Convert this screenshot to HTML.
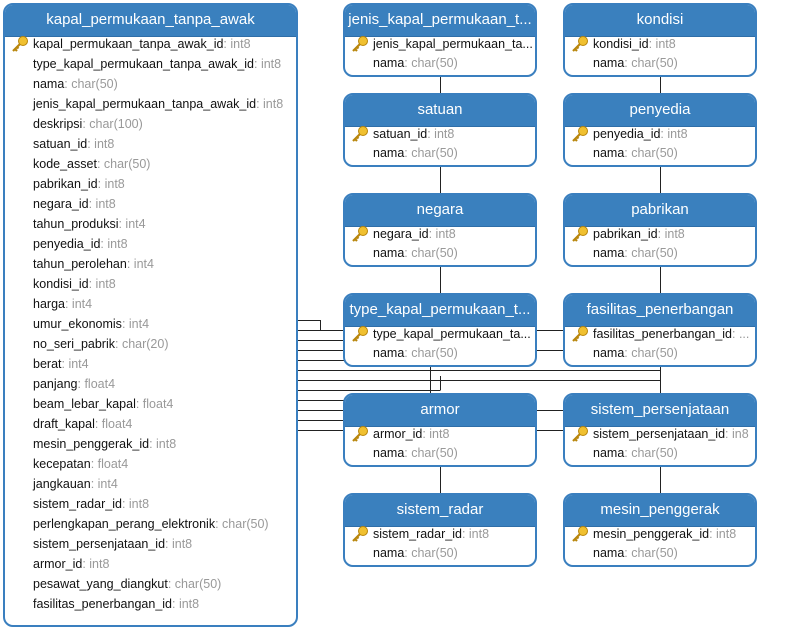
<!DOCTYPE html>
<html><head><meta charset="utf-8"><style>
body{margin:0;width:804px;height:640px;background:#fff;position:relative;overflow:hidden;font-family:"Liberation Sans",sans-serif}
.t{position:absolute;border:2px solid #3a7fbf;border-radius:10px;background:#fff;box-sizing:border-box;overflow:hidden}
.h{background:#3a80be;color:#fff;font-size:15px;text-align:center;height:31px;line-height:30px;white-space:nowrap;overflow:hidden;border-bottom:1px solid #2f6ea8}
.r{position:absolute;font-size:12.5px;color:#111;white-space:nowrap;height:20px;line-height:20px}
.r span{color:#999}
.k{position:absolute;width:18px;height:18px}
svg.l{position:absolute;left:0;top:0}
</style></head><body>
<svg class="l" width="804" height="640">
<g stroke="#222" stroke-width="1" fill="none">
<path d="M440.5 76V94M660.5 76V94M440.5 166V194M660.5 166V194M440.5 266V294M660.5 266V294M440.5 466V494M660.5 466V494"/>
<path d="M297 320.5H320.5V330.5M297 330.5H344M297 340.5H344M297 350.5H344M297 360.5H344"/>
<path d="M297 370.5H660.5M297 380.5H660.5M660.5 366V394"/>
<path d="M297 390.5H440.5M440.5 376V390M430.5 366V400.5M297 400.5H430.5"/>
<path d="M297 410.5H344M297 420.5H344M297 430.5H344"/>
<path d="M536 330.5H564M536 350.5H564M536 410.5H564M536 430.5H564"/>
</g></svg>

<div class="t" style="left:3px;top:3px;width:295px;height:624px"><div class="h">kapal_permukaan_tanpa_awak</div></div>
<svg class="k" style="left:11px;top:35px" viewBox="0 0 18 18"><circle cx="12" cy="6" r="4.5" fill="#f0c030" stroke="#b8860b"/><path d="M9 9L2 16M4 14l2 2M6 12l1.5 1.5" stroke="#b8860b" stroke-width="2.2"/></svg>
<div class="r" style="left:33px;top:34px">kapal_permukaan_tanpa_awak_id<span>: int8</span></div>
<div class="r" style="left:33px;top:54px">type_kapal_permukaan_tanpa_awak_id<span>: int8</span></div>
<div class="r" style="left:33px;top:74px">nama<span>: char(50)</span></div>
<div class="r" style="left:33px;top:94px">jenis_kapal_permukaan_tanpa_awak_id<span>: int8</span></div>
<div class="r" style="left:33px;top:114px">deskripsi<span>: char(100)</span></div>
<div class="r" style="left:33px;top:134px">satuan_id<span>: int8</span></div>
<div class="r" style="left:33px;top:154px">kode_asset<span>: char(50)</span></div>
<div class="r" style="left:33px;top:174px">pabrikan_id<span>: int8</span></div>
<div class="r" style="left:33px;top:194px">negara_id<span>: int8</span></div>
<div class="r" style="left:33px;top:214px">tahun_produksi<span>: int4</span></div>
<div class="r" style="left:33px;top:234px">penyedia_id<span>: int8</span></div>
<div class="r" style="left:33px;top:254px">tahun_perolehan<span>: int4</span></div>
<div class="r" style="left:33px;top:274px">kondisi_id<span>: int8</span></div>
<div class="r" style="left:33px;top:294px">harga<span>: int4</span></div>
<div class="r" style="left:33px;top:314px">umur_ekonomis<span>: int4</span></div>
<div class="r" style="left:33px;top:334px">no_seri_pabrik<span>: char(20)</span></div>
<div class="r" style="left:33px;top:354px">berat<span>: int4</span></div>
<div class="r" style="left:33px;top:374px">panjang<span>: float4</span></div>
<div class="r" style="left:33px;top:394px">beam_lebar_kapal<span>: float4</span></div>
<div class="r" style="left:33px;top:414px">draft_kapal<span>: float4</span></div>
<div class="r" style="left:33px;top:434px">mesin_penggerak_id<span>: int8</span></div>
<div class="r" style="left:33px;top:454px">kecepatan<span>: float4</span></div>
<div class="r" style="left:33px;top:474px">jangkauan<span>: int4</span></div>
<div class="r" style="left:33px;top:494px">sistem_radar_id<span>: int8</span></div>
<div class="r" style="left:33px;top:514px">perlengkapan_perang_elektronik<span>: char(50)</span></div>
<div class="r" style="left:33px;top:534px">sistem_persenjataan_id<span>: int8</span></div>
<div class="r" style="left:33px;top:554px">armor_id<span>: int8</span></div>
<div class="r" style="left:33px;top:574px">pesawat_yang_diangkut<span>: char(50)</span></div>
<div class="r" style="left:33px;top:594px">fasilitas_penerbangan_id<span>: int8</span></div>

<!-- column 1 -->
<div class="t" style="left:343px;top:3px;width:194px;height:74px"><div class="h">jenis_kapal_permukaan_t...</div></div>
<div class="r" style="left:373px;top:34px">jenis_kapal_permukaan_ta...</div>
<div class="r" style="left:373px;top:53px">nama<span>: char(50)</span></div>

<div class="t" style="left:343px;top:93px;width:194px;height:74px"><div class="h">satuan</div></div>
<div class="r" style="left:373px;top:124px">satuan_id<span>: int8</span></div>
<div class="r" style="left:373px;top:143px">nama<span>: char(50)</span></div>

<div class="t" style="left:343px;top:193px;width:194px;height:74px"><div class="h">negara</div></div>
<div class="r" style="left:373px;top:224px">negara_id<span>: int8</span></div>
<div class="r" style="left:373px;top:243px">nama<span>: char(50)</span></div>

<div class="t" style="left:343px;top:293px;width:194px;height:74px"><div class="h">type_kapal_permukaan_t...</div></div>
<div class="r" style="left:373px;top:324px">type_kapal_permukaan_ta...</div>
<div class="r" style="left:373px;top:343px">nama<span>: char(50)</span></div>

<div class="t" style="left:343px;top:393px;width:194px;height:74px"><div class="h">armor</div></div>
<div class="r" style="left:373px;top:424px">armor_id<span>: int8</span></div>
<div class="r" style="left:373px;top:443px">nama<span>: char(50)</span></div>

<div class="t" style="left:343px;top:493px;width:194px;height:74px"><div class="h">sistem_radar</div></div>
<div class="r" style="left:373px;top:524px">sistem_radar_id<span>: int8</span></div>
<div class="r" style="left:373px;top:543px">nama<span>: char(50)</span></div>

<!-- column 2 -->
<div class="t" style="left:563px;top:3px;width:194px;height:74px"><div class="h">kondisi</div></div>
<div class="r" style="left:593px;top:34px">kondisi_id<span>: int8</span></div>
<div class="r" style="left:593px;top:53px">nama<span>: char(50)</span></div>

<div class="t" style="left:563px;top:93px;width:194px;height:74px"><div class="h">penyedia</div></div>
<div class="r" style="left:593px;top:124px">penyedia_id<span>: int8</span></div>
<div class="r" style="left:593px;top:143px">nama<span>: char(50)</span></div>

<div class="t" style="left:563px;top:193px;width:194px;height:74px"><div class="h">pabrikan</div></div>
<div class="r" style="left:593px;top:224px">pabrikan_id<span>: int8</span></div>
<div class="r" style="left:593px;top:243px">nama<span>: char(50)</span></div>

<div class="t" style="left:563px;top:293px;width:194px;height:74px"><div class="h">fasilitas_penerbangan</div></div>
<div class="r" style="left:593px;top:324px">fasilitas_penerbangan_id<span>: ...</span></div>
<div class="r" style="left:593px;top:343px">nama<span>: char(50)</span></div>

<div class="t" style="left:563px;top:393px;width:194px;height:74px"><div class="h">sistem_persenjataan</div></div>
<div class="r" style="left:593px;top:424px">sistem_persenjataan_id<span>: in8</span></div>
<div class="r" style="left:593px;top:443px">nama<span>: char(50)</span></div>

<div class="t" style="left:563px;top:493px;width:194px;height:74px"><div class="h">mesin_penggerak</div></div>
<div class="r" style="left:593px;top:524px">mesin_penggerak_id<span>: int8</span></div>
<div class="r" style="left:593px;top:543px">nama<span>: char(50)</span></div>

<!-- keys -->
<svg class="k" style="left:351px;top:35px" viewBox="0 0 18 18"><circle cx="12" cy="6" r="4.5" fill="#f0c030" stroke="#b8860b"/><path d="M9 9L2 16M4 14l2 2M6 12l1.5 1.5" stroke="#b8860b" stroke-width="2.2"/></svg>
<svg class="k" style="left:351px;top:125px" viewBox="0 0 18 18"><circle cx="12" cy="6" r="4.5" fill="#f0c030" stroke="#b8860b"/><path d="M9 9L2 16M4 14l2 2M6 12l1.5 1.5" stroke="#b8860b" stroke-width="2.2"/></svg>
<svg class="k" style="left:351px;top:225px" viewBox="0 0 18 18"><circle cx="12" cy="6" r="4.5" fill="#f0c030" stroke="#b8860b"/><path d="M9 9L2 16M4 14l2 2M6 12l1.5 1.5" stroke="#b8860b" stroke-width="2.2"/></svg>
<svg class="k" style="left:351px;top:325px" viewBox="0 0 18 18"><circle cx="12" cy="6" r="4.5" fill="#f0c030" stroke="#b8860b"/><path d="M9 9L2 16M4 14l2 2M6 12l1.5 1.5" stroke="#b8860b" stroke-width="2.2"/></svg>
<svg class="k" style="left:351px;top:425px" viewBox="0 0 18 18"><circle cx="12" cy="6" r="4.5" fill="#f0c030" stroke="#b8860b"/><path d="M9 9L2 16M4 14l2 2M6 12l1.5 1.5" stroke="#b8860b" stroke-width="2.2"/></svg>
<svg class="k" style="left:351px;top:525px" viewBox="0 0 18 18"><circle cx="12" cy="6" r="4.5" fill="#f0c030" stroke="#b8860b"/><path d="M9 9L2 16M4 14l2 2M6 12l1.5 1.5" stroke="#b8860b" stroke-width="2.2"/></svg>
<svg class="k" style="left:571px;top:35px" viewBox="0 0 18 18"><circle cx="12" cy="6" r="4.5" fill="#f0c030" stroke="#b8860b"/><path d="M9 9L2 16M4 14l2 2M6 12l1.5 1.5" stroke="#b8860b" stroke-width="2.2"/></svg>
<svg class="k" style="left:571px;top:125px" viewBox="0 0 18 18"><circle cx="12" cy="6" r="4.5" fill="#f0c030" stroke="#b8860b"/><path d="M9 9L2 16M4 14l2 2M6 12l1.5 1.5" stroke="#b8860b" stroke-width="2.2"/></svg>
<svg class="k" style="left:571px;top:225px" viewBox="0 0 18 18"><circle cx="12" cy="6" r="4.5" fill="#f0c030" stroke="#b8860b"/><path d="M9 9L2 16M4 14l2 2M6 12l1.5 1.5" stroke="#b8860b" stroke-width="2.2"/></svg>
<svg class="k" style="left:571px;top:325px" viewBox="0 0 18 18"><circle cx="12" cy="6" r="4.5" fill="#f0c030" stroke="#b8860b"/><path d="M9 9L2 16M4 14l2 2M6 12l1.5 1.5" stroke="#b8860b" stroke-width="2.2"/></svg>
<svg class="k" style="left:571px;top:425px" viewBox="0 0 18 18"><circle cx="12" cy="6" r="4.5" fill="#f0c030" stroke="#b8860b"/><path d="M9 9L2 16M4 14l2 2M6 12l1.5 1.5" stroke="#b8860b" stroke-width="2.2"/></svg>
<svg class="k" style="left:571px;top:525px" viewBox="0 0 18 18"><circle cx="12" cy="6" r="4.5" fill="#f0c030" stroke="#b8860b"/><path d="M9 9L2 16M4 14l2 2M6 12l1.5 1.5" stroke="#b8860b" stroke-width="2.2"/></svg>
</body></html>
